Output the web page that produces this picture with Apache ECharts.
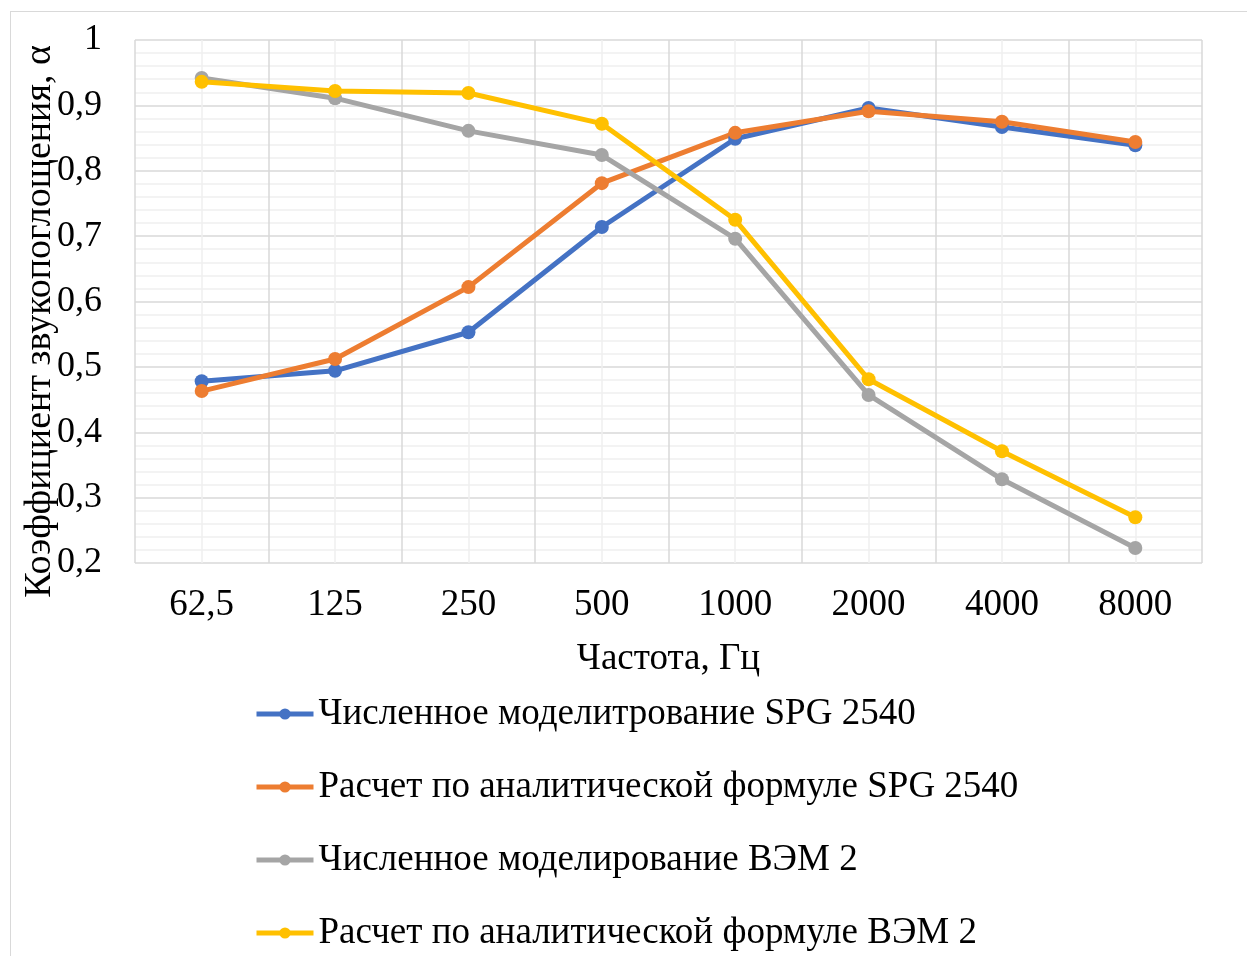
<!DOCTYPE html>
<html>
<head>
<meta charset="utf-8">
<script src="https://cdn.jsdelivr.net/npm/echarts@6/dist/echarts.min.js"></script>
<style>
  html, body { margin: 0; padding: 0; background: #ffffff; overflow: hidden; }
  #frame { position: absolute; left: 10px; top: 11px; width: 1260px; height: 970px; border: 1px solid #d9d9d9; }
  #chart { position: absolute; left: 0; top: 0; width: 1247px; height: 956px; }
</style>
</head>
<body>
<div id="frame"></div>
<div id="chart"></div>
<script>
// частоты, Гц
const categories = ["62,5", "125", "250", "500", "1000", "2000", "4000", "8000"];
const yTicks = [0.2, 0.3, 0.4, 0.5, 0.6, 0.7, 0.8, 0.9, 1];

const numSpg = [0.478, 0.494, 0.553, 0.714, 0.849, 0.896, 0.867, 0.839];
const calcSpg = [0.463, 0.512, 0.622, 0.781, 0.858, 0.891, 0.875, 0.844];
const numVem = [0.942, 0.911, 0.861, 0.824, 0.696, 0.457, 0.328, 0.223];
const calcVem = [0.936, 0.922, 0.919, 0.872, 0.725, 0.481, 0.371, 0.270];

const seriesNames = [
  "Численное моделитрование SPG 2540",
  "Расчет по аналитической формуле SPG 2540",
  "Численное моделирование ВЭМ 2",
  "Расчет по аналитической формуле ВЭМ 2"
];
const seriesData = [numSpg, calcSpg, numVem, calcVem];
const colors = ["#4472C4", "#ED7D31", "#A5A5A5", "#FFC000"];

const font = "'Liberation Serif', 'Times New Roman', serif";

const chart = echarts.init(document.getElementById("chart"));

chart.setOption({
  animation: false,
  color: colors,
  grid: { left: 135, top: 40, right: 45, bottom: 393, containLabel: false },
  legend: {
    orient: "vertical",
    left: 249,
    top: 689,
    height: 280,
    itemWidth: 57,
    itemHeight: 14,
    itemGap: 33,
    data: seriesNames,
    lineStyle: { width: 5 },
    textStyle: { fontFamily: font, fontSize: 37, color: "#000", lineHeight: 40 }
  },
  xAxis: [
    {
      type: "category",
      data: categories,
      boundaryGap: true,
      name: "Частота, Гц",
      nameLocation: "middle",
      nameGap: 78,
      nameTextStyle: { fontFamily: font, fontSize: 37, color: "#000" },
      axisLine: { show: false },
      axisTick: { show: false },
      splitLine: { show: false },
      axisLabel: { fontFamily: font, fontSize: 37, color: "#000", margin: 24 }
    },
    {
      // сетка: границы категорий и середины
      type: "value",
      min: 0,
      max: 8,
      interval: 1,
      axisLine: { show: false },
      axisTick: { show: false },
      axisLabel: { show: false },
      splitLine: { show: true, lineStyle: { color: "#d9d9d9", width: 1.5 } },
      minorTick: { show: false, splitNumber: 2 },
      minorSplitLine: { show: true, lineStyle: { color: "#f0f0f0", width: 1.5 } }
    }
  ],
  yAxis: {
    type: "value",
    min: yTicks[0],
    max: yTicks[yTicks.length - 1],
    interval: 0.1,
    name: "Коэффициент звукопоглощения, α",
    nameLocation: "middle",
    nameGap: 76,
    nameMoveOverlap: false,
    nameTextStyle: { fontFamily: font, fontSize: 38, color: "#000", padding: [0, 40, 0, 0] },
    axisLine: { show: false },
    axisTick: { show: false },
    axisLabel: {
      fontFamily: font,
      fontSize: 36,
      color: "#000",
      margin: 33,
      formatter: (v) => String(Math.round(v * 10) / 10).replace(".", ",")
    },
    splitLine: { show: true, lineStyle: { color: "#d9d9d9", width: 1.5 } },
    minorTick: { show: false, splitNumber: 5 },
    minorSplitLine: { show: true, lineStyle: { color: "#f0f0f0", width: 1.5 } }
  },
  series: seriesNames.map((name, i) => ({
    name: name,
    type: "line",
    xAxisIndex: 0,
    data: seriesData[i],
    symbol: "circle",
    symbolSize: 14,
    lineStyle: { width: 5, color: colors[i] },
    itemStyle: { color: colors[i] }
  }))
});
</script>
</body>
</html>
